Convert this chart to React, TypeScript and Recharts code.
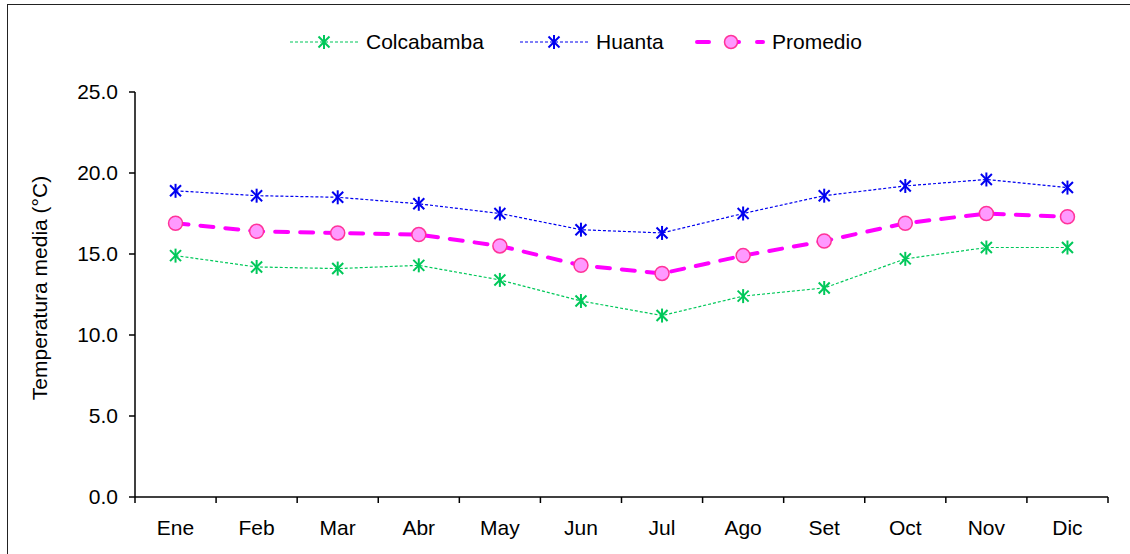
import { LineChart, Line, XAxis, YAxis } from 'recharts';

const months = ['Ene', 'Feb', 'Mar', 'Abr', 'May', 'Jun', 'Jul', 'Ago', 'Set', 'Oct', 'Nov', 'Dic'];
const colcabamba = [14.9, 14.2, 14.1, 14.3, 13.4, 12.1, 11.2, 12.4, 12.9, 14.7, 15.4, 15.4];
const huanta = [18.9, 18.6, 18.5, 18.1, 17.5, 16.5, 16.3, 17.5, 18.6, 19.2, 19.6, 19.1];
const promedio = [16.9, 16.4, 16.3, 16.2, 15.5, 14.3, 13.8, 14.9, 15.8, 16.9, 17.5, 17.3];
const yTicks = [0, 5, 10, 15, 20, 25];

const data = months.map((m, i) => ({
  name: m,
  x: i + 0.5,
  colcabamba: colcabamba[i],
  huanta: huanta[i],
  promedio: promedio[i],
}));

const FONT = '"Liberation Sans", Arial, sans-serif';
const FS = 21;
const W = 1130;
const H = 554;
const LEFT = 135;
const RIGHT = 22;
const STEP = (W - LEFT - RIGHT) / months.length;

const GREEN = '#00C85A';
const BLUE = '#0000F0';
const MAGENTA = '#FF00FF';

const Star = (props: any) => {
  const { cx, cy, color } = props;
  if (cx == null || cy == null) return null;
  const r = 7;
  const d = 5.5;
  return (
    <g stroke={color} strokeWidth={2}>
      <line x1={cx} y1={cy - r} x2={cx} y2={cy + r} />
      <line x1={cx - d} y1={cy - d} x2={cx + d} y2={cy + d} />
      <line x1={cx - d} y1={cy + d} x2={cx + d} y2={cy - d} />
    </g>
  );
};

const XTick = (props: any) => {
  const { x, y, payload } = props;
  if (payload.value >= months.length) return null;
  return (
    <text x={x + STEP / 2} y={y + 30} textAnchor="middle" fontSize={FS} fontFamily={FONT} fill="#000">
      {months[payload.value]}
    </text>
  );
};

const legendItems = [
  { kind: 'colcabamba', color: GREEN, label: 'Colcabamba', left: 288 },
  { kind: 'huanta', color: BLUE, label: 'Huanta', left: 518 },
  { kind: 'promedio', color: MAGENTA, label: 'Promedio', left: 694 },
];

const LegendItem = ({ kind, color, label, left }: { kind: string; color: string; label: string; left: number }) => (
  <div style={{ position: 'absolute', left, top: 30, display: 'flex', alignItems: 'center', height: 24 }}>
    <svg width={72} height={20}>
      {kind === 'promedio' ? (
        <>
          <line x1={3} y1={10} x2={69} y2={10} stroke={MAGENTA} strokeWidth={4} strokeDasharray="12 18" strokeLinecap="round" />
          <circle cx={37} cy={10} r={6.5} fill="#FF99FF" stroke="#FF3399" strokeWidth={1.5} />
        </>
      ) : (
        <>
          <line x1={2} y1={10} x2={70} y2={10} stroke={color} strokeWidth={1.2} strokeDasharray="3 2" />
          <Star cx={36} cy={10} color={color} />
        </>
      )}
    </svg>
    <span style={{ fontFamily: FONT, fontSize: FS, marginLeft: 6, color: '#000' }}>{label}</span>
  </div>
);

export default function App() {
  return (
    <div style={{ position: 'fixed', left: 0, top: 0, width: W, height: H, overflow: 'hidden', background: '#fff' }}>
      <div style={{ position: 'absolute', left: 7, top: 4, width: 1200, height: 600, border: '1.5px solid #222' }} />
      {legendItems.map((it) => (
        <LegendItem key={it.kind} {...it} />
      ))}
      <div style={{ position: 'absolute', left: 0, top: 0 }}>
        <LineChart width={W} height={H} data={data} margin={{ top: 92, right: RIGHT, bottom: 17, left: 0 }}>
          <XAxis
            type="number"
            dataKey="x"
            domain={[0, months.length]}
            ticks={months.map((_, i) => i).concat([months.length])}
            interval={0}
            height={40}
            tickSize={6}
            tick={<XTick />}
            axisLine={{ stroke: '#000', strokeWidth: 1.5 }}
            tickLine={{ stroke: '#000', strokeWidth: 1.5 }}
          />
          <YAxis
            type="number"
            domain={[0, 25]}
            ticks={yTicks}
            interval={0}
            width={LEFT}
            tickSize={6}
            tickMargin={11}
            tickFormatter={(v: number) => v.toFixed(1)}
            tick={{ fontSize: FS, fontFamily: FONT, fill: '#000' }}
            axisLine={{ stroke: '#000', strokeWidth: 1.5 }}
            tickLine={{ stroke: '#000', strokeWidth: 1.5 }}
            label={() => (
              <text
                x={47}
                y={288}
                transform="rotate(-90 47 288)"
                textAnchor="middle"
                fontSize={FS}
                fontFamily={FONT}
                fill="#000"
              >
                Temperatura media (°C)
              </text>
            )}
          />
          <Line
            dataKey="colcabamba"
            stroke={GREEN}
            strokeWidth={1.2}
            strokeDasharray="3 2"
            dot={(p: any) => <Star key={`c-${p.index}`} {...p} color={GREEN} />}
            isAnimationActive={false}
          />
          <Line
            dataKey="huanta"
            stroke={BLUE}
            strokeWidth={1.2}
            strokeDasharray="3 2"
            dot={(p: any) => <Star key={`h-${p.index}`} {...p} color={BLUE} />}
            isAnimationActive={false}
          />
          <Line
            dataKey="promedio"
            stroke={MAGENTA}
            strokeWidth={4}
            strokeDasharray="13 12"
            strokeLinecap="round"
            dot={{ r: 7, fill: '#FF99FF', stroke: '#FF3399', strokeWidth: 1.5, strokeDasharray: '' }}
            isAnimationActive={false}
          />
        </LineChart>
      </div>
    </div>
  );
}
